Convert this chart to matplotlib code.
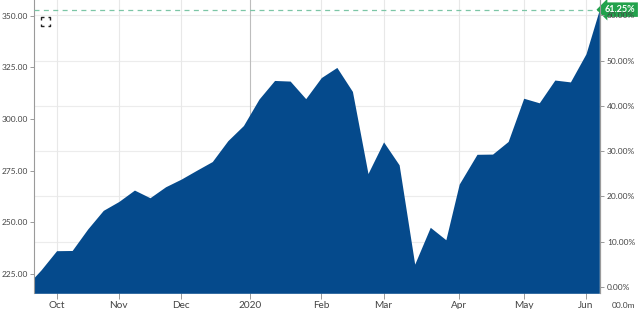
import matplotlib
matplotlib.use("Agg")
import matplotlib.pyplot as plt
import matplotlib.transforms as mtransforms
import numpy as np
import pandas as pd

plt.rcParams['font.family'] = ['Lato', 'DejaVu Sans']

# ---- data (weekly closes) ----
dates = ["2019-09-27", "2019-10-04", "2019-10-11", "2019-10-18", "2019-10-25",
         "2019-11-01", "2019-11-08", "2019-11-15", "2019-11-22", "2019-11-29",
         "2019-12-06", "2019-12-13", "2019-12-20", "2019-12-27", "2020-01-03",
         "2020-01-10", "2020-01-17", "2020-01-24", "2020-01-31", "2020-02-07",
         "2020-02-14", "2020-02-21", "2020-02-28", "2020-03-06", "2020-03-13",
         "2020-03-20", "2020-03-27", "2020-04-03", "2020-04-09", "2020-04-17",
         "2020-04-24", "2020-05-01", "2020-05-08", "2020-05-15", "2020-05-22",
         "2020-05-29", "2020-06-05", "2020-06-11"]
prices = [218.82, 227.0, 236.3, 236.4, 246.8,
          255.8, 260.1, 265.6, 261.9, 267.2,
          270.9, 275.2, 279.4, 289.5, 296.8,
          309.6, 318.6, 318.3, 309.8, 320.0,
          324.9, 313.3, 273.6, 288.9, 277.8,
          229.8, 247.6, 241.6, 268.5, 282.9,
          283.0, 289.1, 310.0, 307.8, 318.8,
          317.9, 331.5, 352.84]
tick_dates = ["2019-10-11", "2019-11-08", "2019-12-06", "2020-01-06", "2020-02-07",
              "2020-03-06", "2020-04-09", "2020-05-08", "2020-06-05"]
tick_labels = ["Oct", "Nov", "Dec", "2020", "Feb", "Mar", "Apr", "May", "Jun"]
price_ticks = [225, 250, 275, 300, 325, 350]
pct_ticks = [0, 10, 20, 30, 40, 50, 60]

# ---- derived ----
d = pd.to_datetime(dates)
x = (d - d[0]).days.values / 7.0
y = np.array(prices)
base = y[0]
xt = (pd.to_datetime(tick_dates) - d[0]).days.values / 7.0

fig = plt.figure(figsize=(6.4, 3.09), dpi=100)
W, H = 640, 309
left, right, top, bottom = 34, 600, 0, 293.3
ax = fig.add_axes([left / W, 1 - bottom / H, (right - left) / W, (bottom - top) / H])

ylo, yhi = 215.7, 357.5
ax.set_ylim(ylo, yhi)
ax.set_xlim(0.55, 36.9)

# grid
for p in pct_ticks:
    ax.axhline(base * (1 + p / 100), color="#ececec", lw=0.8, zorder=0)
for xv, lab in zip(xt, tick_labels):
    ax.axvline(xv, color="#bdbdbd" if lab == "2020" else "#e8e8e8", lw=0.8, zorder=0)

ax.fill_between(x, y, ylo, color="#054a8c", lw=0, zorder=2)

# last value dashed line
last = y[-1]
ax.axhline(last, color="#7cc6a6", lw=0.9, ls=(0, (4, 3.5)), zorder=3)

# spines
for s in ["top", "bottom"]:
    ax.spines[s].set_visible(False)
for s in ["left", "right"]:
    ax.spines[s].set_color("#9a9a9a")
    ax.spines[s].set_linewidth(0.8)

ax.set_yticks(price_ticks)
ax.set_yticklabels([f"{v:.2f}" for v in price_ticks])
ax.tick_params(axis="y", labelsize=6, colors="#9a9a9a", labelcolor="#444444",
               length=3, width=0.7, pad=1.5)
ax.set_xticks(xt)
ax.set_xticklabels(tick_labels)
ax.tick_params(axis="x", labelsize=7.2, colors="#9a9a9a", labelcolor="#444444",
               length=4, width=0.7, pad=1.5)

ax2 = ax.twinx()
ax2.set_ylim((ylo / base - 1) * 100, (yhi / base - 1) * 100)
ax2.set_yticks(pct_ticks)
ax2.set_yticklabels([f"{p:.2f}%" for p in pct_ticks])
ax2.tick_params(axis="y", labelsize=6, colors="#9a9a9a", labelcolor="#444444",
                length=3, width=0.7, pad=2)
for s in ["top", "bottom", "left"]:
    ax2.spines[s].set_visible(False)
ax2.spines["right"].set_color("#9a9a9a")
ax2.spines["right"].set_linewidth(0.8)

# last value badge
pct_last = (last / base - 1) * 100
trans = mtransforms.blended_transform_factory(ax.transAxes, ax.transData)
ax.text(1.008, last, f"{pct_last:.2f}%", transform=trans, ha="left", va="center",
        fontsize=6.6, color="white", fontweight="bold", zorder=10, clip_on=False,
        bbox=dict(boxstyle="larrow,pad=0.3", fc="#22a24c", ec="none"))

# expand icon (corner brackets)
x0, y0 = 7 / 566, 1 - 26 / 293.3
sx, sy = 9 / 566, 9 / 293.3
ax_, ay_ = 2.5 / 566, 2.5 / 293.3
corners = [
    ([x0, x0, x0 + ax_], [y0 + sy - ay_, y0 + sy, y0 + sy]),
    ([x0 + sx - ax_, x0 + sx, x0 + sx], [y0 + sy, y0 + sy, y0 + sy - ay_]),
    ([x0, x0, x0 + ax_], [y0 + ay_, y0, y0]),
    ([x0 + sx - ax_, x0 + sx, x0 + sx], [y0, y0, y0 + ay_]),
]
for cx, cy in corners:
    ax.plot(cx, cy, transform=ax.transAxes, color="#222222", lw=1.0,
            solid_capstyle="butt", clip_on=False, zorder=5)

fig.text(624 / W, 1 - 305 / H, "00.0m", ha="center", va="center", fontsize=6, color="#444444")

fig.savefig("out.png", dpi=100)
